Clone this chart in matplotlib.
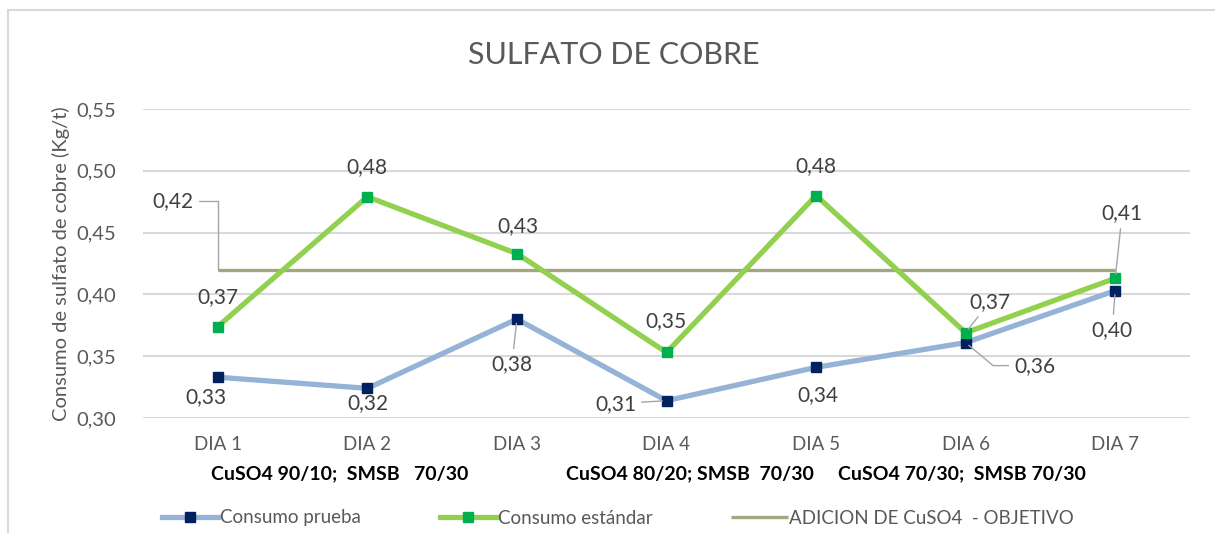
import matplotlib
matplotlib.use("Agg")
import matplotlib.pyplot as plt
from matplotlib.patches import Rectangle
from matplotlib.ticker import FuncFormatter
import numpy as np

plt.rcParams['font.family'] = ['Lato', 'DejaVu Sans']

# data
dias = ['DIA 1', 'DIA 2', 'DIA 3', 'DIA 4', 'DIA 5', 'DIA 6', 'DIA 7']
consumo_prueba = [0.333, 0.324, 0.380, 0.314, 0.341, 0.361, 0.403]
consumo_estandar = [0.374, 0.479, 0.433, 0.353, 0.480, 0.369, 0.413]
objetivo = [0.42, 0.42, 0.42, 0.42, 0.42, 0.42, 0.42]
notas = ['CuSO4 90/10;  SMSB   70/30', 'CuSO4 80/20; SMSB  70/30', 'CuSO4 70/30;  SMSB 70/30']
notas_x = [340, 690, 962]

W, H = 1215, 533
fig = plt.figure(figsize=(W / 100, H / 100), dpi=100)
ax = fig.add_axes([143 / W, 1 - 418 / H, (1190 - 143) / W, (418 - 109) / H])

gris = '#595959'
x = np.arange(len(dias))

l_obj, = ax.plot(x, objetivo, color='#A3A67E', lw=2.4, label='ADICION DE CuSO4  - OBJETIVO', zorder=3,
                 solid_capstyle='butt')
l_pru, = ax.plot(x, consumo_prueba, color='#95B3D7', lw=3.8, marker='s', ms=7.5,
                 mfc='#002060', mec='#002060', label='Consumo prueba', zorder=4, clip_on=False)
l_est, = ax.plot(x, consumo_estandar, color='#92D050', lw=3.8, marker='s', ms=7.5,
                 mfc='#00B050', mec='#00B050', label='Consumo estándar', zorder=5, clip_on=False)

ax.set_xlim(-0.5, 6.5)
ax.set_ylim(0.30, 0.55)
ax.set_yticks([0.30, 0.35, 0.40, 0.45, 0.50, 0.55])
ax.yaxis.set_major_formatter(FuncFormatter(lambda v, p: f'{v:.2f}'.replace('.', ',')))
ax.set_xticks(x)
ax.set_xticklabels(dias)
ax.tick_params(axis='both', length=0, colors=gris, labelsize=13.5)
ax.tick_params(axis='y', pad=19, labelsize=14.5)
ax.tick_params(axis='x', pad=13)
ax.grid(axis='y', color='#D9D9D9', lw=1.5)
ax.set_axisbelow(True)
for s in ax.spines.values():
    s.set_visible(False)

ax.set_ylabel('Consumo de sulfato de cobre (Kg/t)', color=gris, fontsize=14.5)
ax.yaxis.set_label_coords((70 - 143) / 1047, 0.5)

leader = dict(arrowstyle='-', color='#A6A6A6', lw=1, shrinkA=2, shrinkB=3)

def etiqueta(i, v, dx, dy, linea=None):
    ax.annotate(f'{v:.2f}'.replace('.', ','), (i, v), xytext=(dx, -dy),
                textcoords='offset pixels', ha='center', va='center',
                fontsize=15, color='#404040', arrowprops=linea, zorder=6)

# offsets in pixels (dx, dy screen-down)
off_prueba = [(-12, 20, None), (1, 15, None), (-5, 45, leader), (-51, 3, leader),
              (2, 28, None), (69, 23, dict(leader, connectionstyle='angle,angleA=0,angleB=-40,rad=0')),
              (-3, 39, leader)]
off_estandar = [(0, -29, None), (0, -30, None), (1, -28, None), (-1, -31, None),
                (0, -29, None), (24, -31, leader), (7, -65, leader)]
for i, (v, o) in enumerate(zip(consumo_prueba, off_prueba)):
    etiqueta(i, v, *o)
for i, (v, o) in enumerate(zip(consumo_estandar, off_estandar)):
    etiqueta(i, v, *o)
etiqueta(0, objetivo[0], -45, -69, dict(leader, shrinkB=0, connectionstyle='angle,angleA=0,angleB=90,rad=0'))

fig.text(614 / W, 1 - 55 / H, 'SULFATO DE COBRE', ha='center', va='center', fontsize=22, color=gris)

for nx, t in zip(notas_x, notas):
    fig.text(nx / W, 1 - 474 / H, t, ha='center', va='center', fontsize=14, fontweight='bold', color='black')

ax.legend(handles=[l_pru, l_est, l_obj], loc='center left', bbox_to_anchor=(162 / W, 1 - 518 / H),
          bbox_transform=fig.transFigure, borderaxespad=0, borderpad=0,
          ncol=3, frameon=False, fontsize=13.5, labelcolor=gris, handlelength=3.0,
          handletextpad=0.1, columnspacing=4.2, numpoints=1, markerscale=0.9)

fig.add_artist(Rectangle((8 / W, -0.1), 1.2, 1.1 - 10 / H, transform=fig.transFigure,
                         fill=False, edgecolor='#D9D9D9', lw=1.5))

fig.savefig('out.png', dpi=100, facecolor='white')
